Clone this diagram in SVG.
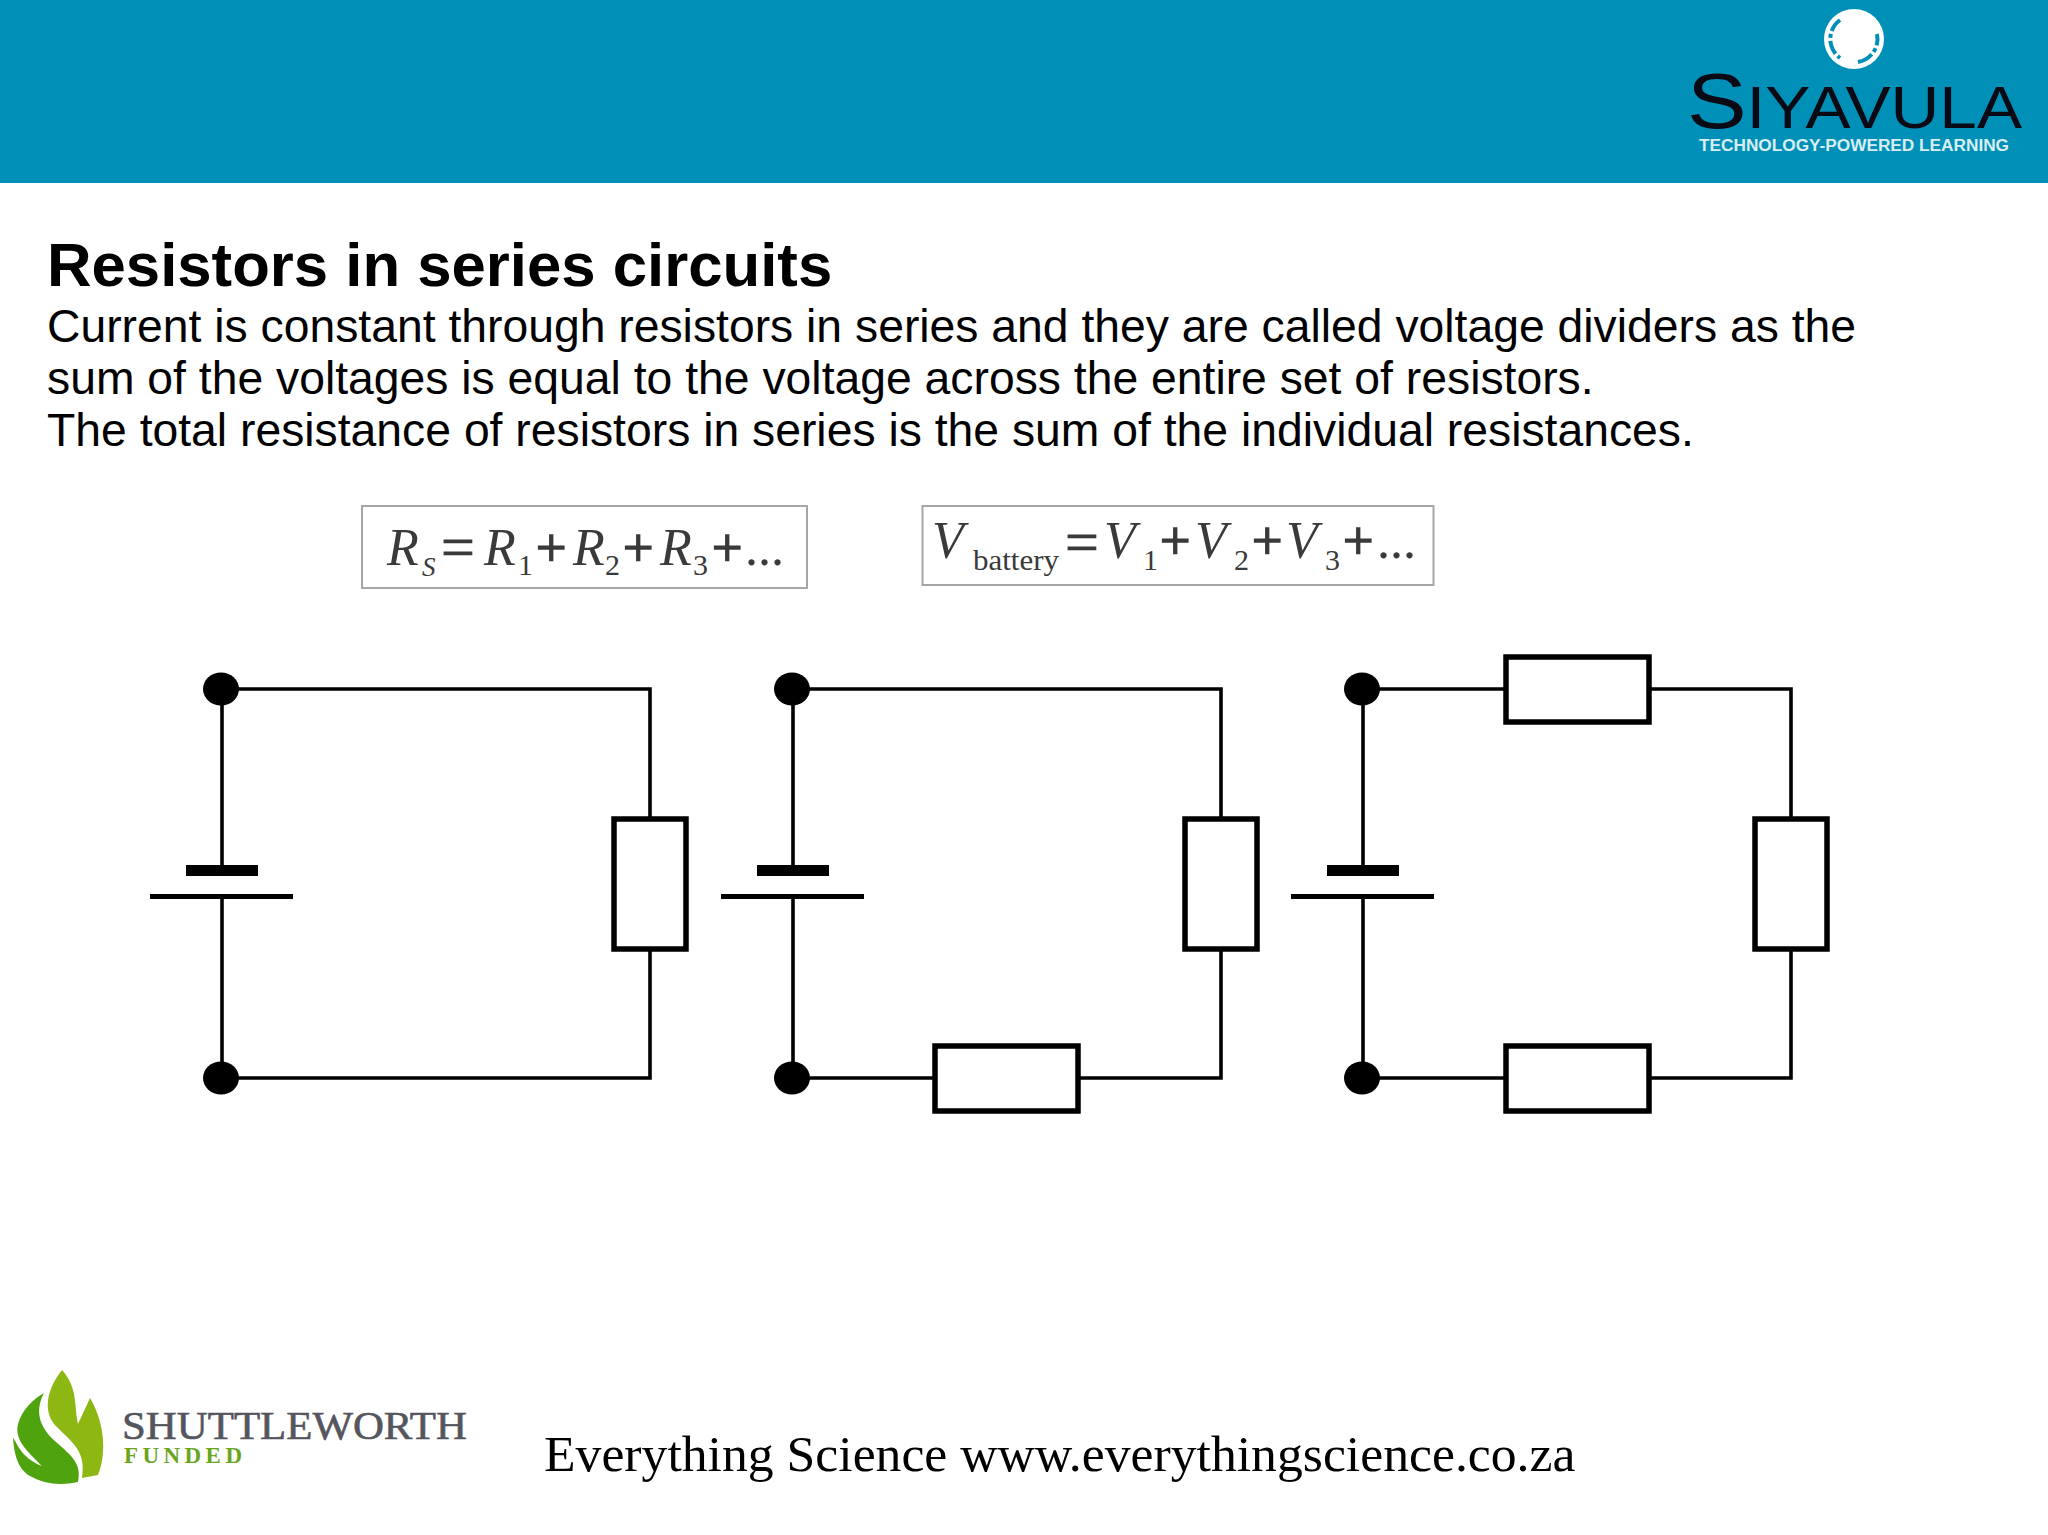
<svg xmlns="http://www.w3.org/2000/svg" width="2048" height="1535" viewBox="0 0 2048 1535">
<defs>
<style>
.s{font-family:"Liberation Sans",Arial,sans-serif}
.m{font-family:"Liberation Serif","Times New Roman",serif;fill:#3a3a3a}
.i{font-style:italic;font-size:52px}
.is{font-style:italic;font-size:27px}
.n{font-size:30px}
.o{font-size:52px}
.p{font-size:54px;stroke:#3a3a3a;stroke-width:1.6}
.e{font-size:60px;stroke:#3a3a3a;stroke-width:.8}
.w{stroke:#000;stroke-width:3.6;fill:none;stroke-linecap:square}
.r{stroke:#000;stroke-width:5.5;fill:#fff}
.box{fill:#fff;stroke:#a6a6a6;stroke-width:2}
.arc{fill:none;stroke:#0090b7;stroke-width:4}
</style>
<g id="battery">
<path class="w" d="M222 689V865M222 899V1077"/>
<rect x="186" y="865" width="72" height="11" fill="#000"/>
<rect x="150" y="894" width="143" height="5" fill="#000"/>
<ellipse cx="221" cy="689" rx="18" ry="16.5" fill="#000"/>
<ellipse cx="221" cy="1078" rx="18" ry="16.5" fill="#000"/>
</g>
</defs>
<rect width="2048" height="1535" fill="#fff"/>
<g id="header">
<rect width="2048" height="183" fill="#0090b7"/>
<circle cx="1854" cy="39" r="30" fill="#fff"/>
<path class="arc" stroke-dasharray="14 3 4 3" d="M1840 20A23.500 23.500 0 0 0 1840 58"/>
<path class="arc" stroke-dasharray="16 3 4 3" d="M1858 62A23.500 23.500 0 0 0 1877 34"/>
<text x="1687" y="128" class="s" font-size="78" fill="#0a0a14" textLength="335" lengthAdjust="spacingAndGlyphs">S<tspan font-size="59">IYAVULA</tspan></text>
<text x="1699" y="151" class="s" font-size="16" font-weight="bold" fill="#d8eef5" textLength="310" lengthAdjust="spacingAndGlyphs">TECHNOLOGY-POWERED LEARNING</text>
</g>
<g id="heading">
<text x="47" y="286" class="s" font-size="61.7" font-weight="bold" fill="#000">Resistors in series circuits</text>
<text x="47" y="342" class="s" font-size="46.3" fill="#000">Current is constant through resistors in series and they are called voltage dividers as the</text>
<text x="47" y="394" class="s" font-size="46.3" fill="#000">sum of the voltages is equal to the voltage across the entire set of resistors.</text>
<text x="47" y="446" class="s" font-size="46.3" fill="#000">The total resistance of resistors in series is the sum of the individual resistances.</text>
</g>
<g id="formula-resistance">
<rect class="box" x="362" y="506" width="445" height="82"/>
<text class="m i" x="387" y="565">R</text><text class="m is" x="422" y="576">S</text>
<text class="m e" x="441" y="567">=</text>
<text class="m i" x="484" y="565">R</text><text class="m n" x="518" y="575">1</text>
<text class="m p" x="536" y="566">+</text>
<text class="m i" x="573" y="565">R</text><text class="m n" x="605" y="575">2</text>
<text class="m p" x="623" y="566">+</text>
<text class="m i" x="660" y="565">R</text><text class="m n" x="693" y="575">3</text>
<text class="m p" x="712" y="566">+</text>
<text class="m o" x="745" y="565">...</text>
</g>
<g id="formula-voltage">
<rect class="box" x="922.500" y="506" width="511" height="79"/>
<text class="m i" x="932" y="558">V</text>
<text class="m" x="973" y="570" font-size="30" textLength="86" lengthAdjust="spacingAndGlyphs">battery</text>
<text class="m e" x="1065" y="562">=</text>
<text class="m i" x="1104" y="558">V</text><text class="m n" x="1143" y="570">1</text>
<text class="m p" x="1160" y="559">+</text>
<text class="m i" x="1195" y="558">V</text><text class="m n" x="1234" y="570">2</text>
<text class="m p" x="1252" y="559">+</text>
<text class="m i" x="1286" y="558">V</text><text class="m n" x="1325" y="570">3</text>
<text class="m p" x="1343" y="559">+</text>
<text class="m o" x="1377" y="558">...</text>
</g>
<g id="connectors">
<path class="w" d="M221 689H650V1078H221"/>
<path class="w" d="M792 689H1221V1078H792"/>
<path class="w" d="M1362 689H1791V1078H1362"/>
</g>
<g id="battery-1"><use href="#battery"/></g>
<g id="battery-2"><use href="#battery" x="571"/></g>
<g id="battery-3"><use href="#battery" x="1141"/></g>
<g id="resistor-1"><rect class="r" x="614" y="819" width="72" height="130"/></g>
<g id="resistor-2a"><rect class="r" x="1185" y="819" width="72" height="130"/></g>
<g id="resistor-2b"><rect class="r" x="935" y="1046" width="143" height="65"/></g>
<g id="resistor-3a"><rect class="r" x="1506" y="657" width="143" height="65"/></g>
<g id="resistor-3b"><rect class="r" x="1755" y="819" width="72" height="130"/></g>
<g id="resistor-3c"><rect class="r" x="1506" y="1046" width="143" height="65"/></g>
<g id="footer">
<path d="M62 1370C78 1388 74 1405 78 1424L90 1398C106 1425 106 1456 98 1475L82 1478C86 1452 74 1444 58 1428C42 1414 46 1390 62 1370Z" fill="#8db814"/>
<path d="M44 1393C34 1412 40 1428 56 1442C72 1456 82 1464 78 1482C60 1486 44 1484 30 1476C16 1468 14 1450 13 1438C16 1440 20 1458 42 1466C28 1452 14 1440 18 1424C22 1410 32 1400 44 1393Z" fill="#4fa30e"/>
<text x="122" y="1439" font-family="Liberation Serif,serif" font-size="39" fill="#55555d" textLength="345" lengthAdjust="spacingAndGlyphs" stroke="#55555d" stroke-width=".6">SHUTTLEWORTH</text>
<text x="124" y="1463" font-family="Liberation Serif,serif" font-size="23" font-weight="bold" fill="#6aa51e" textLength="118" lengthAdjust="spacing">FUNDED</text>
<text x="544" y="1471" font-family="Liberation Serif,serif" font-size="51.7" fill="#000">Everything Science www.everythingscience.co.za</text>
</g>
</svg>
